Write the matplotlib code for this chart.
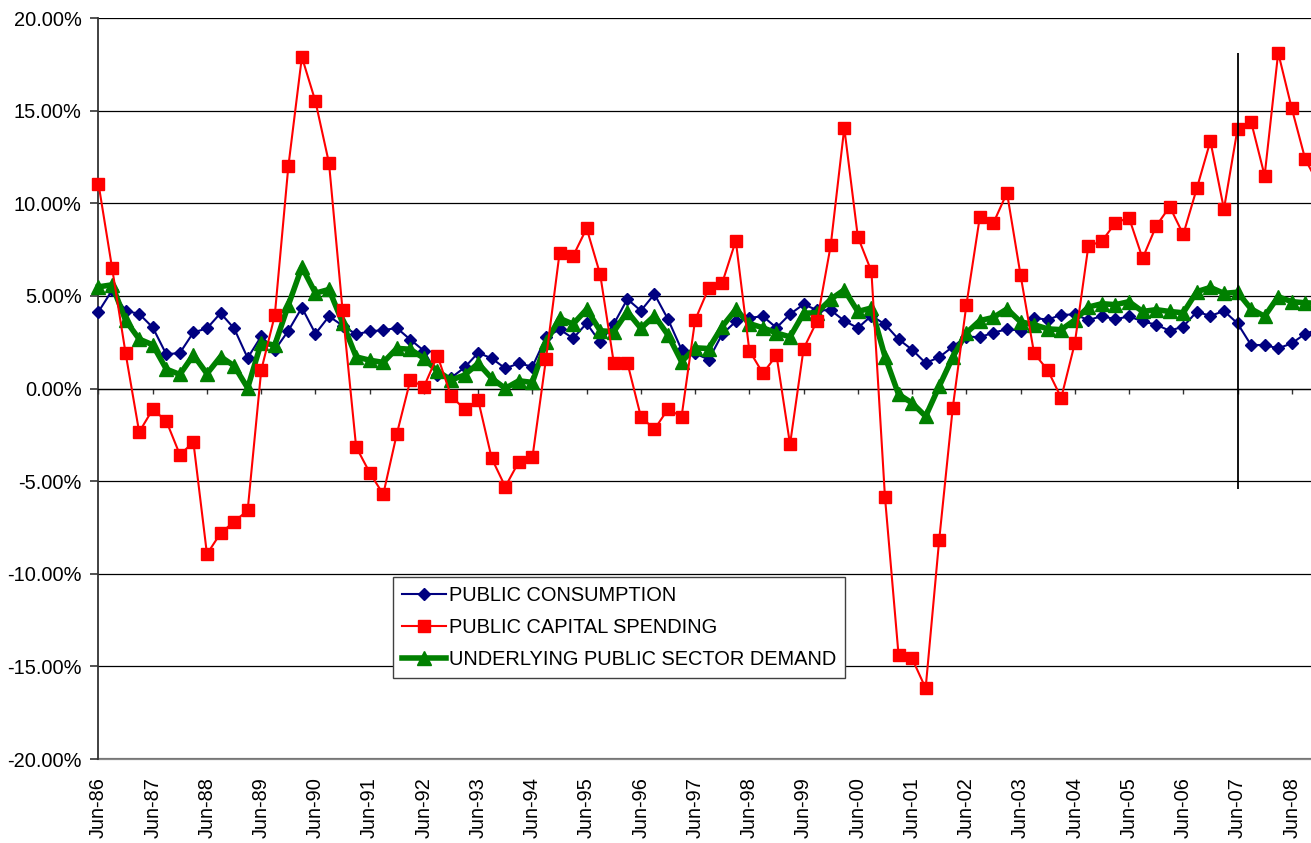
import numpy as np
import matplotlib
matplotlib.use("Agg")
import matplotlib.pyplot as plt

plt.rcParams['font.family'] = ['Liberation Sans', 'DejaVu Sans']
plt.rcParams['font.size'] = 14.4

# quarterly growth rates (%), Jun-86 .. Dec-08
public_consumption = [
    4.15, 5.3, 4.2, 4.03, 3.3, 1.85, 1.92, 3.03, 3.25, 4.07,
    3.25, 1.65, 2.82, 2.08, 3.12, 4.37, 2.96, 3.9, 3.4, 2.93,
    3.09, 3.15, 3.27, 2.64, 2.04, 0.73, 0.58, 1.14, 1.93, 1.63,
    1.09, 1.36, 1.18, 2.76, 3.2, 2.71, 3.52, 2.49, 3.48, 4.83,
    4.2, 5.1, 3.74, 2.1, 1.9, 1.56, 2.94, 3.62, 3.82, 3.9,
    3.28, 4.02, 4.55, 4.23, 4.23, 3.66, 3.27, 3.93, 3.47, 2.66,
    2.1, 1.38, 1.69, 2.26, 2.81, 2.77, 3.02, 3.2, 3.13, 3.81,
    3.72, 3.98, 4.0, 3.7, 3.91, 3.74, 3.9, 3.62, 3.45, 3.12,
    3.35, 4.15, 3.92, 4.19, 3.52, 2.35, 2.35, 2.17, 2.44, 2.96,
    3.2,
]
public_capital = [
    11.05, 6.52, 1.9, -2.35, -1.12, -1.75, -3.57, -2.9, -8.94, -7.81,
    -7.19, -6.58, 0.98, 3.95, 11.99, 17.9, 15.5, 12.17, 4.22, -3.15,
    -4.54, -5.71, -2.45, 0.46, 0.1, 1.77, -0.4, -1.12, -0.62, -3.77,
    -5.3, -3.95, -3.72, 1.59, 7.3, 7.15, 8.65, 6.16, 1.4, 1.4,
    -1.52, -2.2, -1.11, -1.52, 3.7, 5.42, 5.71, 7.98, 2.05, 0.82,
    1.8, -3.01, 2.15, 3.66, 7.73, 14.07, 8.19, 6.33, -5.85, -14.36,
    -14.57, -16.18, -8.17, -1.04, 4.49, 9.28, 8.94, 10.57, 6.13, 1.9,
    1.0, -0.5, 2.44, 7.69, 7.96, 8.95, 9.22, 7.03, 8.77, 9.82,
    8.32, 10.81, 13.36, 9.69, 14.01, 14.41, 11.49, 18.13, 15.13, 12.37,
    11.0,
]
underlying_demand = [
    5.49, 5.6, 3.68, 2.67, 2.36, 1.05, 0.76, 1.81, 0.8, 1.72,
    1.23, 0.03, 2.47, 2.35, 4.5, 6.56, 5.15, 5.35, 3.56, 1.71,
    1.53, 1.41, 2.17, 2.12, 1.63, 0.94, 0.46, 0.73, 1.36, 0.55,
    0.01, 0.42, 0.33, 2.49, 3.79, 3.48, 4.28, 3.12, 3.07, 4.15,
    3.25, 3.93, 2.89, 1.45, 2.2, 2.16, 3.35, 4.27, 3.51, 3.28,
    3.0, 2.79, 4.06, 4.1, 4.82, 5.33, 4.16, 4.35, 1.73, -0.31,
    -0.78, -1.5, 0.12, 1.69, 3.0, 3.67, 3.84, 4.3, 3.6, 3.45,
    3.22, 3.18, 3.7, 4.4, 4.58, 4.53, 4.69, 4.16, 4.26, 4.16,
    4.09, 5.23, 5.46, 5.14, 5.2, 4.3, 3.9, 4.96, 4.69, 4.63,
    4.6,
]

tick_labels = ["Jun-86", "Jun-87", "Jun-88", "Jun-89", "Jun-90", "Jun-91",
               "Jun-92", "Jun-93", "Jun-94", "Jun-95", "Jun-96", "Jun-97",
               "Jun-98", "Jun-99", "Jun-00", "Jun-01", "Jun-02", "Jun-03",
               "Jun-04", "Jun-05", "Jun-06", "Jun-07", "Jun-08"]
marker_quarter = 84          # Jun-07 reference line
marker_range = (-5.4, 18.1)

x = np.arange(len(public_consumption))
tick_pos = np.arange(len(tick_labels)) * 4

fig = plt.figure(figsize=(13.11, 8.43), dpi=100)
ax = fig.add_axes([0.07513, 0.09964, 0.92487, 0.87889])

ax.plot(x, public_consumption, color='#000080', lw=1.5, marker='D', ms=6.3,
        label='PUBLIC CONSUMPTION', zorder=3, clip_on=False)
ax.plot(x, public_capital, color='#FF0000', lw=1.5, marker='s', ms=9,
        label='PUBLIC CAPITAL SPENDING', zorder=5, clip_on=False)
ax.plot(x, underlying_demand, color='#008000', lw=4, marker='^', ms=9.5,
        label='UNDERLYING PUBLIC SECTOR DEMAND', zorder=4, clip_on=False)
ax.vlines(marker_quarter, *marker_range, color='black', lw=1.3, zorder=6)

ax.set_xlim(0, 89.42)
ax.set_ylim(-20, 20)
yt = np.arange(-20, 21, 5)
ax.set_yticks(yt, labels=['%.2f%%' % v for v in yt])
ax.yaxis.grid(True, color='black', lw=0.9)
ax.set_axisbelow(True)

ax.spines['top'].set_visible(False)
ax.spines['right'].set_visible(False)
ax.spines['left'].set_color('#333333')
ax.spines['left'].set_linewidth(1.3)
ax.spines['bottom'].set_position(('data', 0))
ax.spines['bottom'].set_color('black')
ax.spines['bottom'].set_linewidth(0.9)
ax.tick_params(axis='y', direction='out', length=5.5, width=1.2,
               color='#333333', pad=6.5)
ax.set_xticks(tick_pos)
ax.tick_params(axis='x', direction='out', length=3.6, width=1.0,
               color='#333333', labelbottom=False)

sec = ax.secondary_xaxis('bottom')
sec.set_xticks(tick_pos, labels=tick_labels, rotation=90)
sec.tick_params(length=0, pad=13)
sec.spines['bottom'].set_color('#888888')
sec.spines['bottom'].set_linewidth(1.6)

leg = ax.legend(loc='upper left', bbox_to_anchor=(393.3 / 1311, 1 - 577.3 / 843),
                bbox_transform=fig.transFigure, borderaxespad=0, borderpad=0.42,
                handlelength=2.2, handletextpad=0.18, labelspacing=0.66,
                fancybox=False, framealpha=1, edgecolor='#404040')
leg.get_frame().set_linewidth(1.0)
leg.set_zorder(10)

fig.savefig('out.png', dpi=100)
